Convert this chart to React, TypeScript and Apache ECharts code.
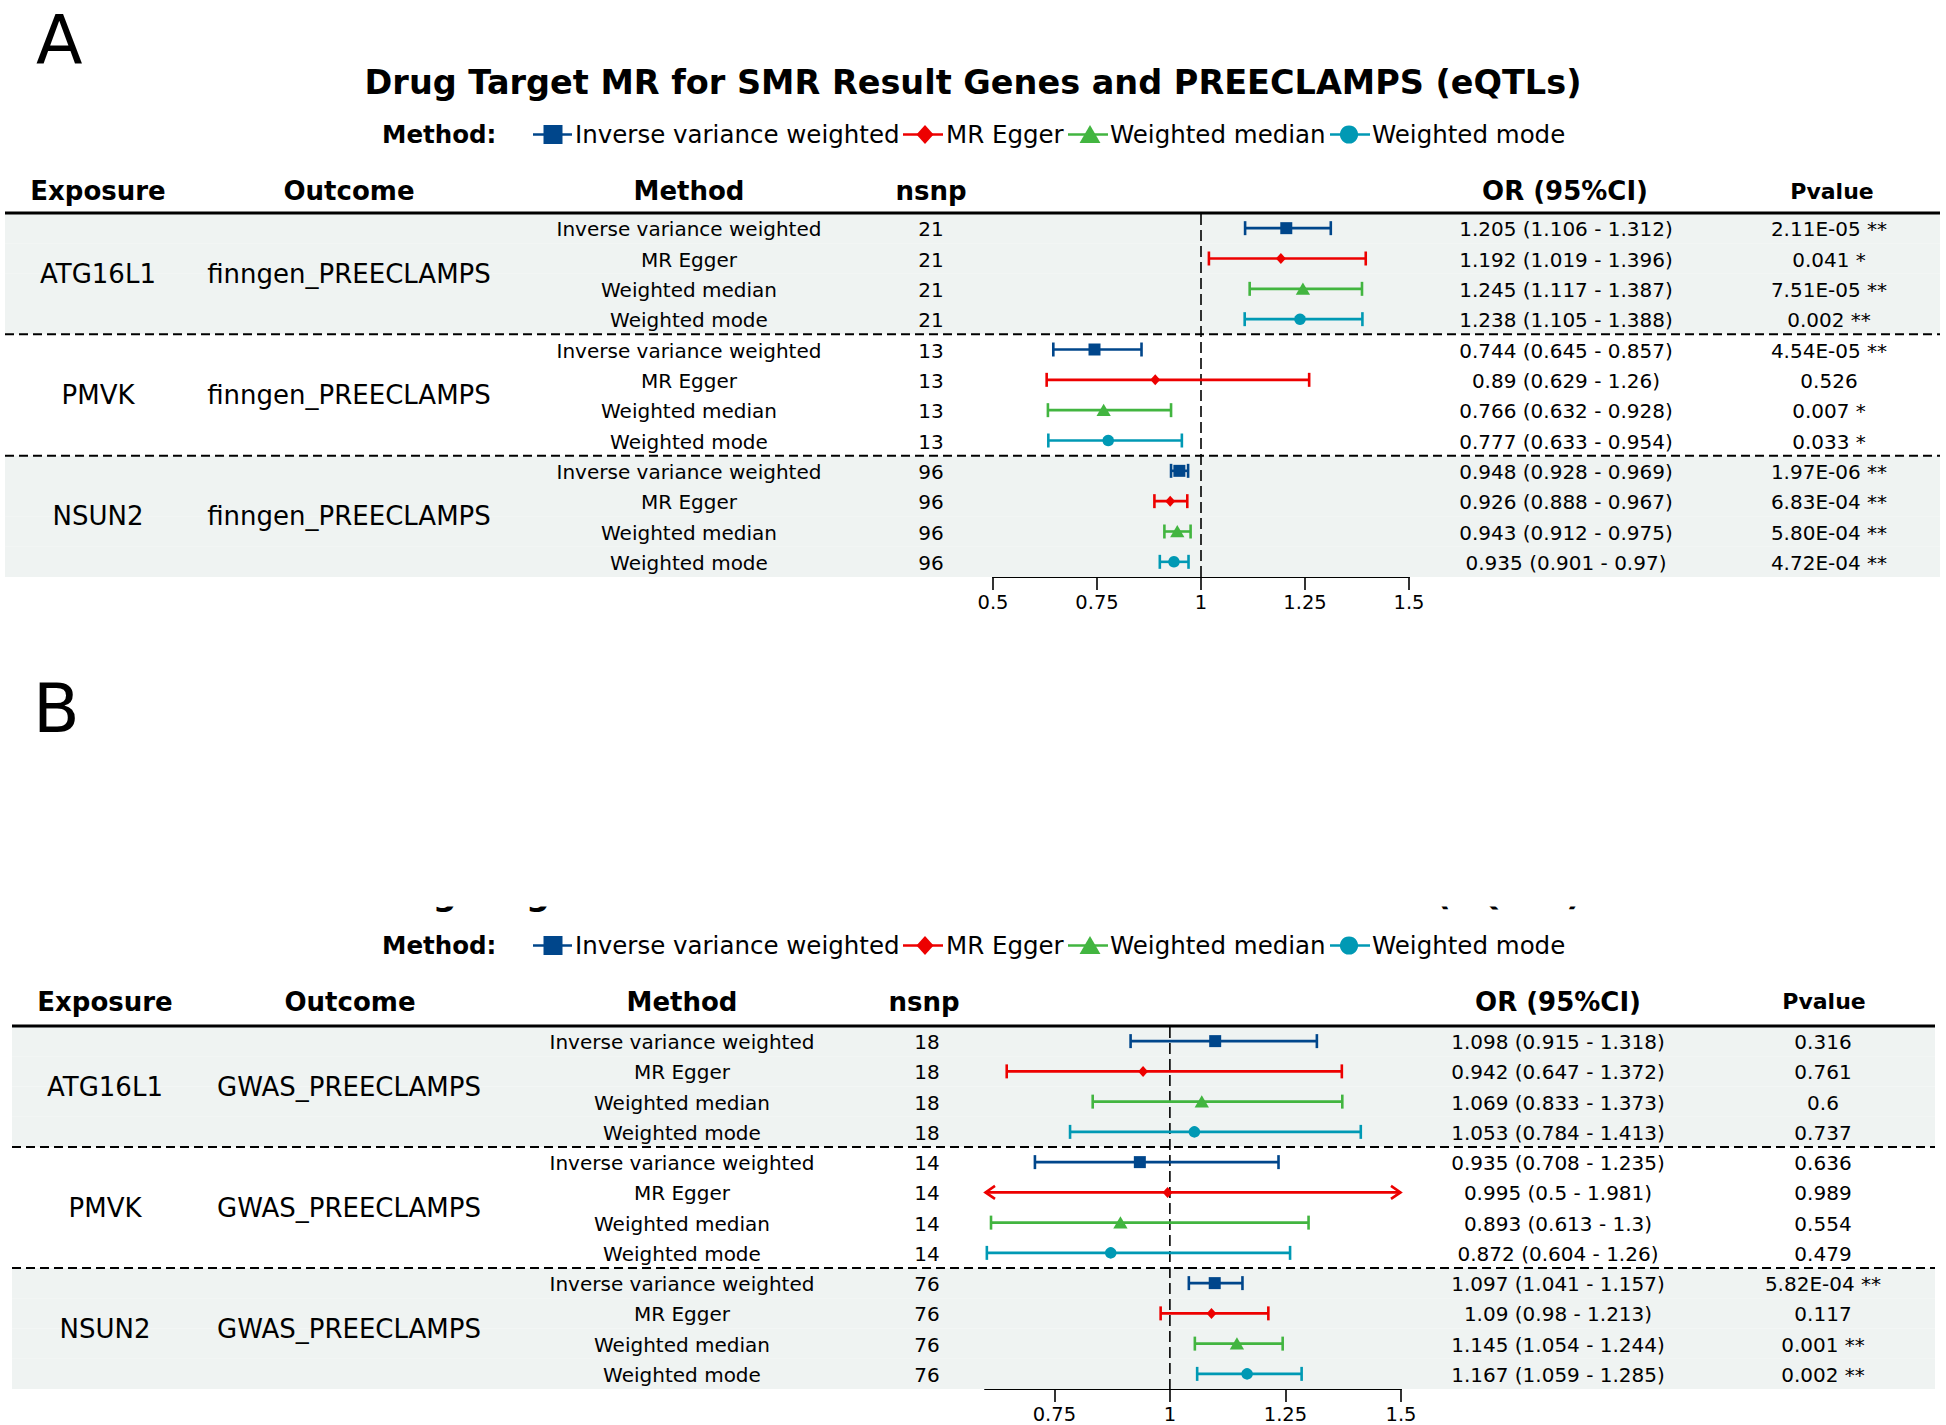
import React, { useEffect, useRef } from "react";
import * as echarts from "echarts";

// ---------------- data ----------------
const methods = ["Inverse variance weighted", "MR Egger", "Weighted median", "Weighted mode"];
const exposures = ["ATG16L1", "PMVK", "NSUN2"];
const chartTitle = "Drug Target MR for SMR Result Genes and PREECLAMPS (eQTLs)";
const headerLabels = ["Exposure", "Outcome", "Method", "nsnp", "OR (95%CI)", "Pvalue"];
const legendTitle = "Method:";
const nullEffect = 1;

// Panel A
const outcomeA = "finngen_PREECLAMPS";
const nsnpA = [21, 13, 96];
const orA = [1.205, 1.192, 1.245, 1.238, 0.744, 0.89, 0.766, 0.777, 0.948, 0.926, 0.943, 0.935];
const lowerA = [1.106, 1.019, 1.117, 1.105, 0.645, 0.629, 0.632, 0.633, 0.928, 0.888, 0.912, 0.901];
const upperA = [1.312, 1.396, 1.387, 1.388, 0.857, 1.26, 0.928, 0.954, 0.969, 0.967, 0.975, 0.97];
const pvalueA = [
  "2.11E-05 **", "0.041 *", "7.51E-05 **", "0.002 **",
  "4.54E-05 **", "0.526", "0.007 *", "0.033 *",
  "1.97E-06 **", "6.83E-04 **", "5.80E-04 **", "4.72E-04 **",
];
const xRangeA = [0.5, 1.5];
const xTicksA = [0.5, 0.75, 1, 1.25, 1.5];

// Panel B
const outcomeB = "GWAS_PREECLAMPS";
const nsnpB = [18, 14, 76];
const orB = [1.098, 0.942, 1.069, 1.053, 0.935, 0.995, 0.893, 0.872, 1.097, 1.09, 1.145, 1.167];
const lowerB = [0.915, 0.647, 0.833, 0.784, 0.708, 0.5, 0.613, 0.604, 1.041, 0.98, 1.054, 1.059];
const upperB = [1.318, 1.372, 1.373, 1.413, 1.235, 1.981, 1.3, 1.26, 1.157, 1.213, 1.244, 1.285];
const pvalueB = [
  "0.316", "0.761", "0.6", "0.737",
  "0.636", "0.989", "0.554", "0.479",
  "5.82E-04 **", "0.117", "0.001 **", "0.002 **",
];
const xRangeB = [0.6, 1.5];
const xTicksB = [0.75, 1, 1.25, 1.5];

// ---------------- styles / layout ----------------
const FONT = '"DejaVu Sans", sans-serif';
const COLORS = ["#00468B", "#ED0000", "#42B540", "#0099B4"];
const BAND = "#eff3f2";
const W = 1946;
const H = 1425;

const layoutA = {
  letter: "A", letterX: 36, letterY: 40.5,
  titleY: 82.6, legendY: 134.5, headerY: 191, ruleY: 213,
  grid: { left: 993, top: 213, width: 416, height: 364 },
  tableLeft: 5, tableRight: 1940,
  headerX: [98, 349, 689, 931, 1565, 1832],
  col: { exposure: 98, outcome: 349, method: 689, nsnp: 931, or: 1566, p: 1829 },
};
const layoutB = {
  letter: "B", letterX: 33, letterY: 708.5,
  titleY: 893.6, legendY: 945.5, headerY: 1001.5, ruleY: 1026,
  grid: { left: 985, top: 1026, width: 416, height: 363 },
  tableLeft: 12, tableRight: 1935,
  headerX: [105, 350, 682, 924, 1558, 1824],
  col: { exposure: 105, outcome: 349, method: 682, nsnp: 927, or: 1558, p: 1823 },
  cover: { y: 850, height: 56.5 },
};
// legend item geometry: line x1/x2, marker centre, text start
const legendItems = [
  { x1: 533, x2: 572, cx: 553, tx: 575 },
  { x1: 903, x2: 943, cx: 925, tx: 946 },
  { x1: 1068, x2: 1108, cx: 1090, tx: 1110 },
  { x1: 1330, x2: 1370, cx: 1349, tx: 1372 },
];
const legendTitleX = 382;

const rowKeys = exposures.flatMap((e) => methods.map((m) => `${e} | ${m}`));

function txt(x: number, y: number, text: string, size: number, bold = false, align = "center", z2 = 10) {
  return {
    type: "text",
    z2,
    style: {
      x, y, text,
      fontSize: size,
      fontFamily: FONT,
      fontWeight: bold ? "bold" : "normal",
      fill: "#000",
      align, textAlign: align,
      verticalAlign: "middle", textVerticalAlign: "middle",
    },
  };
}

function gText(x: number, y: number, text: string, size: number, bold = false, align = "center", z = 10) {
  const style: any = {
    text,
    fontSize: size,
    fontFamily: FONT,
    fontWeight: bold ? "bold" : "normal",
    fill: "#000",
    align, textAlign: align,
    verticalAlign: "middle", textVerticalAlign: "middle",
  };
  return { type: "text", x, y, z, silent: true, style };
}

function markerShape(m: number, cx: number, cy: number, s: number, color: string) {
  const style = { fill: color, stroke: "none", lineWidth: 0 };
  if (m === 0) {
    return { type: "rect", shape: { x: cx - s / 2, y: cy - s / 2, width: s, height: s }, style };
  }
  if (m === 1) {
    const hw = s * 0.45, hh = s * 0.5;
    return { type: "polygon", shape: { points: [[cx - hw, cy], [cx, cy - hh], [cx + hw, cy], [cx, cy + hh]] }, style };
  }
  if (m === 2) {
    const hw = s * 0.55, hh = s * 0.45;
    return { type: "polygon", shape: { points: [[cx - hw, cy + hh], [cx + hw, cy + hh], [cx, cy - hh * 1.1]] }, style };
  }
  return { type: "circle", shape: { cx, cy, r: s * 0.48 }, style };
}

function makeTableRender(L: any, outcome: string, nsnp: number[], or: number[], lo: number[], hi: number[], pv: string[]) {
  return (params: any, api: any) => {
    const row = api.value(1);
    const g = Math.floor(row / 4);
    const k = row % 4;
    const y = api.coord([1, row])[1];
    const h = api.size([0, 1])[1];
    const x0 = L.tableLeft, x1 = L.tableRight, c = L.col;
    const ch: any[] = [];
    if (g % 2 === 0) {
      ch.push({ type: "rect", z2: 0, shape: { x: x0, y: y - h / 2, width: x1 - x0, height: h }, style: { fill: BAND, stroke: "none" } });
    }
    if (k === 3 && g < exposures.length - 1) {
      ch.push({ type: "line", z2: 5, shape: { x1: x0, y1: y + h / 2, x2: x1, y2: y + h / 2 }, style: { stroke: "#000", lineWidth: 2, lineDash: [9, 5], fill: "none" } });
    }
    const yt = y + 1;
    ch.push(txt(c.method, yt, methods[k], 20));
    ch.push(txt(c.nsnp, yt, String(nsnp[g]), 20));
    ch.push(txt(c.or, yt, `${or[row]} (${lo[row]} - ${hi[row]})`, 20));
    ch.push(txt(c.p, yt, pv[row], 20));
    if (k === 0) {
      const yEnd = api.coord([1, row + 3])[1];
      const ym = (y + yEnd) / 2;
      ch.push(txt(c.exposure, ym, exposures[g], 26));
      ch.push(txt(c.outcome, ym, outcome, 26));
    }
    return { type: "group", children: ch };
  };
}

function forestRender(params: any, api: any) {
  const cs = params.coordSys;
  const row = api.value(3);
  const m = api.value(4);
  const color = COLORS[m];
  const pO = api.coord([api.value(0), row]);
  const y = pO[1];
  let xl = api.coord([api.value(1), row])[0];
  let xh = api.coord([api.value(2), row])[0];
  const left = cs.x, right = cs.x + cs.width;
  const clipL = xl < left - 0.5;
  const clipR = xh > right + 0.5;
  xl = Math.max(xl, left);
  xh = Math.min(xh, right);
  const ls = { stroke: color, lineWidth: 2.6, fill: "none" };
  const ch: any[] = [];
  ch.push({ type: "line", shape: { x1: xl, y1: y, x2: xh, y2: y }, style: ls });
  if (clipL) {
    ch.push({ type: "polyline", shape: { points: [[xl + 10, y - 6.5], [xl + 0.5, y], [xl + 10, y + 6.5]] }, style: ls });
  } else {
    ch.push({ type: "line", shape: { x1: xl, y1: y - 7, x2: xl, y2: y + 7 }, style: ls });
  }
  if (clipR) {
    ch.push({ type: "polyline", shape: { points: [[xh - 10, y - 6.5], [xh - 0.5, y], [xh - 10, y + 6.5]] }, style: ls });
  } else {
    ch.push({ type: "line", shape: { x1: xh, y1: y - 7, x2: xh, y2: y + 7 }, style: ls });
  }
  const sizes = [12, 11, 13, 12];
  ch.push(markerShape(m, pO[0], y, sizes[m], color));
  return { type: "group", children: ch };
}

function refRender(params: any, api: any) {
  const cs = params.coordSys;
  const x = api.coord([api.value(0), 0])[0];
  return {
    type: "line",
    shape: { x1: x, y1: cs.y + 1, x2: x, y2: cs.y + cs.height },
    style: { stroke: "#000", lineWidth: 1.6, lineDash: [11, 5], fill: "none" },
  };
}

function xAxisCfg(gridIndex: number, range: number[], ticks: number[]) {
  return {
    type: "value",
    gridIndex,
    min: range[0],
    max: range[1],
    position: "bottom",
    axisLine: { show: true, onZero: false, lineStyle: { color: "#000", width: 2 } },
    axisTick: { show: true, inside: false, length: 13, lineStyle: { color: "#000", width: 1.6 }, customValues: ticks },
    axisLabel: { show: true, margin: 15, fontSize: 19.5, fontFamily: FONT, color: "#000", customValues: ticks, formatter: (v: number) => String(v) },
    splitLine: { show: false },
  };
}

function panelSeries(pi: number, L: any, outcome: string, nsnp: number[], or: number[], lo: number[], hi: number[], pv: string[]) {
  const forestData = or.map((v, i) => [v, lo[i], hi[i], i, i % 4]);
  return [
    {
      type: "custom", name: `table${pi}`, xAxisIndex: pi, yAxisIndex: pi, z: 1, silent: true,
      data: rowKeys.map((_, i) => [1, i]),
      encode: { x: 0, y: 1 },
      renderItem: makeTableRender(L, outcome, nsnp, or, lo, hi, pv),
    },
    {
      type: "custom", name: `ref${pi}`, xAxisIndex: pi, yAxisIndex: pi, z: 2, silent: true,
      data: [[nullEffect, 0]],
      encode: { x: 0, y: 1 },
      renderItem: refRender,
    },
    {
      type: "custom", name: `forest${pi}`, xAxisIndex: pi, yAxisIndex: pi, z: 3, silent: true,
      data: forestData,
      encode: { x: [0, 1, 2], y: 3 },
      renderItem: forestRender,
    },
  ];
}

function panelGraphics(L: any) {
  const els: any[] = [];
  els.push(gText(L.letterX, L.letterY, L.letter, 68, false, "left", 10));
  els.push(gText(973, L.titleY, chartTitle, 33.5, true, "center"));
  if (L.cover) {
    els.push({ type: "rect", z: 20, silent: true, shape: { x: 0, y: L.cover.y, width: W, height: L.cover.height }, style: { fill: "#fff", stroke: "none" } });
  }
  // legend
  const ly = L.legendY;
  els.push(gText(legendTitleX, ly, legendTitle, 24.5, true, "left"));
  legendItems.forEach((it, m) => {
    els.push({ type: "line", z: 10, silent: true, shape: { x1: it.x1, y1: ly, x2: it.x2, y2: ly }, style: { stroke: COLORS[m], lineWidth: 2.5 } });
    const mk: any = markerShape(m, it.cx, ly, 19, COLORS[m]);
    mk.z = 11; mk.silent = true;
    els.push(mk);
    els.push(gText(it.tx, ly, methods[m], 24.5, false, "left"));
  });
  // header
  headerLabels.forEach((h, i) => {
    els.push(gText(L.headerX[i], L.headerY, h, i === 5 ? 22 : 26, true, "center"));
  });
  els.push({ type: "line", z: 10, silent: true, shape: { x1: L.tableLeft, y1: L.ruleY, x2: L.tableRight, y2: L.ruleY }, style: { stroke: "#000", lineWidth: 3 } });
  return els;
}

export default function App() {
  const ref = useRef<HTMLDivElement>(null);
  useEffect(() => {
    document.body.style.margin = "0";
    const chart = echarts.init(ref.current as HTMLDivElement, null, { renderer: "svg", width: W, height: H });
    const option: any = {
      animation: false,
      backgroundColor: "#ffffff",
      grid: [
        { ...layoutA.grid, containLabel: false, outerBoundsMode: "none" },
        { ...layoutB.grid, containLabel: false, outerBoundsMode: "none" },
      ],
      xAxis: [xAxisCfg(0, xRangeA, xTicksA), xAxisCfg(1, xRangeB, xTicksB)],
      yAxis: [
        { type: "category", gridIndex: 0, data: rowKeys, inverse: true, show: false },
        { type: "category", gridIndex: 1, data: rowKeys, inverse: true, show: false },
      ],
      series: [
        ...panelSeries(0, layoutA, outcomeA, nsnpA, orA, lowerA, upperA, pvalueA),
        ...panelSeries(1, layoutB, outcomeB, nsnpB, orB, lowerB, upperB, pvalueB),
      ],
      graphic: [...panelGraphics(layoutA), ...panelGraphics(layoutB)],
    };
    chart.setOption(option);
    return () => chart.dispose();
  }, []);
  return (
    <div
      ref={ref}
      style={{ position: "absolute", left: 0, top: 0, width: W, height: H, background: "#fff" }}
    />
  );
}
